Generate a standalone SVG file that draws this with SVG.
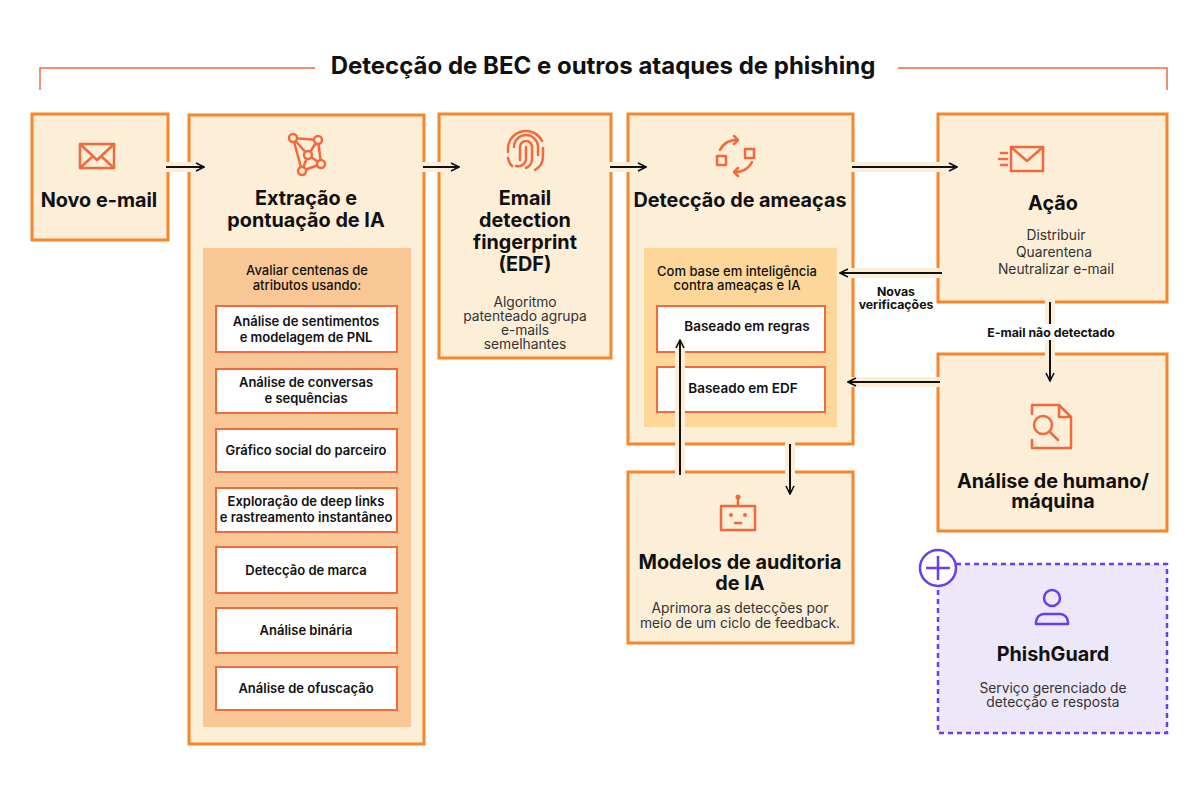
<svg xmlns="http://www.w3.org/2000/svg" width="1200" height="796" viewBox="0 0 1200 796">
<defs>
<marker id="ah" viewBox="0 0 10 10" refX="9" refY="5" markerWidth="10" markerHeight="10" markerUnits="userSpaceOnUse" orient="auto"><path d="M1,1 L9,5 L1,9" fill="none" stroke="#111" stroke-width="1.6"/></marker>
</defs>
<style>
text{font-family:Inter,"Noto Sans",sans-serif;fill:#111}
.box{fill:#fdeed8;stroke:#f5862a;stroke-width:3}
.item{fill:#fff;stroke:#f26a3c;stroke-width:2}
.h{font-size:19.8px;font-weight:700;text-anchor:middle}
.s{font-size:13.8px;text-anchor:middle;fill:#333}
.i{font-size:13px;font-weight:600;text-anchor:middle}
.ic{fill:none;stroke:#f26a3c;stroke-width:2.5;stroke-linejoin:round;stroke-linecap:round}
.halo{stroke:#fdeed8;stroke-width:10;fill:none}
.ln{stroke:#111;stroke-width:2;fill:none;marker-end:url(#ah)}
.lb{font-size:12.3px;font-weight:700;text-anchor:middle}
</style>
<rect width="1200" height="796" fill="#fff"/>
<g id="title">
<path d="M40,90 V68 H315 M898,68 H1167 V90" fill="none" stroke="#f26a3c" stroke-width="1.5"/>
<text x="603" y="74" style="font-size:24px;font-weight:700;text-anchor:middle">Detecção de BEC e outros ataques de phishing</text>
</g>
<g id="novo">
<rect class="box" x="32" y="114" width="136" height="126"/>
<rect class="ic" x="80" y="144" width="34" height="24"/><path class="ic" d="M80,144 L97,160 L114,144 M80,168 L93,156 M114,168 L101,156"/>
<text class="h" x="99" y="207">Novo e-mail</text>
</g>
<g id="extracao">
<rect class="box" x="189" y="115" width="235" height="629"/>
<path class="ic" d="M293,138 L318,140 L321,164 L302,171 Z M293,138 L308,155 L318,140 M308,155 L321,164 M308,155 L302,171"/>
<g fill="#fdeed8" stroke="#f26a3c" stroke-width="2.5"><circle cx="293" cy="138" r="4"/><circle cx="318" cy="140" r="4"/><circle cx="308" cy="155" r="4"/><circle cx="321" cy="164" r="4"/><circle cx="302" cy="171" r="4"/></g>
<text class="h" x="306" y="205">Extração e</text>
<text class="h" x="306" y="227">pontuação de IA</text>
<rect x="203" y="248" width="208" height="479" fill="#f9c795"/>
<text class="i" x="307" y="275" style="font-weight:500">Avaliar centenas de</text>
<text class="i" x="307" y="290" style="font-weight:500">atributos usando:</text>
<rect class="item" x="216" y="306" width="181" height="46"/><text class="i" x="306" y="326">Análise de sentimentos</text><text class="i" x="306" y="342">e modelagem de PNL</text>
<rect class="item" x="216" y="369" width="181" height="44"/><text class="i" x="306" y="387">Análise de conversas</text><text class="i" x="306" y="403">e sequências</text>
<rect class="item" x="216" y="429" width="181" height="43"/><text class="i" x="306" y="455">Gráfico social do parceiro</text>
<rect class="item" x="216" y="488" width="181" height="44"/><text class="i" x="306" y="506">Exploração de deep links</text><text class="i" x="306" y="522">e rastreamento instantâneo</text>
<rect class="item" x="216" y="547" width="181" height="46"/><text class="i" x="306" y="575">Detecção de marca</text>
<rect class="item" x="216" y="608" width="181" height="45"/><text class="i" x="306" y="635">Análise binária</text>
<rect class="item" x="216" y="667" width="181" height="43"/><text class="i" x="306" y="693">Análise de ofuscação</text>
</g>
<g id="edf">
<rect class="box" x="439" y="114" width="172" height="244"/>
<g class="ic" stroke-width="2"><path d="M514,147 a12,12 0 0 1 24,0 v8"/><path d="M508,152 v-5 a18,18 0 0 1 34,-6"/><path d="M520,160 v-13 a6,6 0 0 1 12,0 v12 a10,10 0 0 1 -6,9"/><path d="M526,147 v10 a8,8 0 0 1 -10,9"/><path d="M508,158 a14,14 0 0 0 4,8"/><path d="M543,148 v8 a16,16 0 0 1 -8,14"/></g>
<text class="h" x="525" y="205">Email</text><text class="h" x="525" y="227">detection</text><text class="h" x="525" y="249">fingerprint</text><text class="h" x="525" y="271">(EDF)</text>
<text class="s" x="525" y="307">Algoritmo</text><text class="s" x="525" y="321">patenteado agrupa</text><text class="s" x="525" y="335">e-mails</text><text class="s" x="525" y="349">semelhantes</text>
</g>
<g id="deteccao">
<rect class="box" x="628" y="114" width="225" height="330"/>
<rect class="ic" x="717" y="156" width="9" height="9" stroke-width="2"/><rect class="ic" x="745" y="149" width="9" height="9" stroke-width="2"/>
<path class="ic" stroke-width="2" d="M720,150 a18,18 0 0 1 18,-10 M734,136 l4,4 -4,4 M752,162 a18,18 0 0 1 -18,10 M738,176 l-4,-4 4,-4"/>
<text class="h" x="740" y="207">Detecção de ameaças</text>
<rect x="644" y="248" width="193" height="179" fill="#fcd799"/>
<text class="i" x="737" y="276" style="font-weight:500">Com base em inteligência</text>
<text class="i" x="737" y="290" style="font-weight:500">contra ameaças e IA</text>
<rect class="item" x="657" y="306" width="168" height="46"/><text class="i" x="747" y="331" style="font-size:13.5px">Baseado em regras</text>
<rect class="item" x="657" y="367" width="168" height="45"/><text class="i" x="743" y="393" style="font-size:13.5px">Baseado em EDF</text>
</g>
<g id="acao">
<rect class="box" x="938" y="114" width="229" height="188"/>
<rect class="ic" x="1011" y="147" width="32" height="24"/><path class="ic" d="M1011,147 L1027,161 L1043,147 M1001,153 h6 M999,159 h8 M1001,165 h6"/>
<text class="h" x="1053" y="210">Ação</text>
<text class="s" x="1056" y="240">Distribuir</text><text class="s" x="1054" y="257">Quarentena</text><text class="s" x="1056" y="274">Neutralizar e-mail</text>
</g>
<g id="analise">
<rect class="box" x="938" y="354" width="229" height="177"/>
<path class="ic" d="M1032,414 V405 H1059 L1071,417 V448 H1032 V440 M1059,405 V417 H1071"/>
<circle class="ic" cx="1043" cy="425" r="9" fill="#fdeed8"/><path class="ic" d="M1050,432 L1058,440"/>
<text class="h" x="1053" y="488">Análise de humano/</text><text class="h" x="1053" y="508">máquina</text>
</g>
<g id="modelos">
<rect class="box" x="628" y="472" width="225" height="171"/>
<path class="ic" d="M738,497 v8"/><circle cx="738" cy="497" r="2.5" fill="#f26a3c"/>
<rect class="ic" x="721" y="506" width="34" height="24"/><circle cx="731" cy="515" r="2" fill="#f26a3c"/><circle cx="745" cy="515" r="2" fill="#f26a3c"/><path class="ic" d="M735,523 h6"/>
<text class="h" x="740" y="569">Modelos de auditoria</text><text class="h" x="740" y="590">de IA</text>
<text class="s" x="740" y="613">Aprimora as detecções por</text><text class="s" x="740" y="628">meio de um ciclo de feedback.</text>
</g>
<g id="phishguard">
<rect x="938" y="564" width="229" height="169" fill="#ede8f9" stroke="#6a3df0" stroke-width="2.5" stroke-dasharray="5,4"/>
<circle cx="938" cy="568" r="18" fill="#fff" stroke="#6a3df0" stroke-width="2.5"/><path d="M926,568 h24 M938,556 v24" stroke="#6a3df0" stroke-width="2.5"/>
<circle cx="1052" cy="598" r="8" fill="none" stroke="#6a3df0" stroke-width="2.5"/><path d="M1036,624 v-2 a8,8 0 0 1 8,-8 h16 a8,8 0 0 1 8,8 v2 z" fill="none" stroke="#6a3df0" stroke-width="2.5" stroke-linejoin="round"/>
<text class="h" x="1053" y="661">PhishGuard</text>
<text class="s" x="1053" y="693">Serviço gerenciado de</text><text class="s" x="1053" y="707">detecção e resposta</text>
</g>
<g id="connectors">
<path class="halo" d="M164,167 H202 M421,167 H457 M608,167 H644 M850,167 H955 M944,273 H841 M1050,300 V380 M942,382 H849 M790,442 V492 M680,477 V340"/>
<path class="ln" d="M166,167 H204"/>
<path class="ln" d="M423,167 H459"/>
<path class="ln" d="M610,167 H646"/>
<path class="ln" d="M852,167 H957"/>
<path class="ln" d="M942,273 H840"/>
<rect x="856" y="284" width="80" height="28" fill="#fff"/>
<text class="lb" x="896" y="296">Novas</text><text class="lb" x="896" y="309">verificações</text>
<path class="ln" d="M1050,302 V381"/>
<rect x="980" y="324" width="140" height="16" fill="#fff"/>
<text class="lb" x="1051" y="337">E-mail não detectado</text>
<path class="ln" d="M940,382 H848"/>
<path class="ln" d="M790,444 V494"/>
<path class="ln" d="M680,475 V340"/>
</g>
</svg>
